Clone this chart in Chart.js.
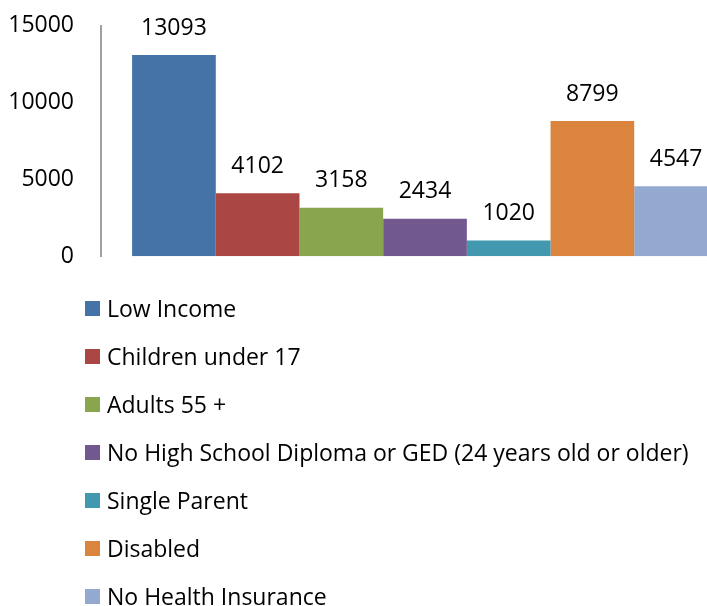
<!DOCTYPE html>
<html lang="en">
<head>
    <meta charset="UTF-8">
    <title>Population groups</title>
    <script src="https://cdn.jsdelivr.net/npm/chart.js"></script>
    <style>
        body {
            margin: 0;
            background: #ffffff;
            font-family: "Open Sans", Lato, sans-serif;
            overflow: hidden;
        }

        .wrap {
            position: relative;
            width: 707px;
            height: 606px;
            overflow: hidden;
        }

        #groupsChart {
            position: absolute;
            left: 0;
            top: -15px;
        }

        #legend {
            position: absolute;
            left: 85px;
            top: 284px;
            margin: 0;
            padding: 0;
            list-style: none;
        }

        #legend li {
            display: flex;
            align-items: center;
            height: 48px;
            font-size: 23px;
            color: #000;
            white-space: nowrap;
        }

        #legend span.box {
            display: inline-block;
            width: 15px;
            height: 15px;
            margin-right: 7px;
        }
    </style>
</head>
<body>
    <div class="wrap">
        <canvas id="groupsChart" width="749" height="312"></canvas>
        <ul id="legend"></ul>
    </div>

    <script>
        "use strict";

        // data
        const groups = [
            'Low Income',
            'Children under 17',
            'Adults 55 +',
            'No High School Diploma or GED (24 years old or older)',
            'Single Parent',
            'Disabled',
            'No Health Insurance'
        ];
        const counts = [13093, 4102, 3158, 2434, 1020, 8799, 4547];
        const colors = ['#4572A7', '#AA4643', '#89A54E', '#71588F', '#4198AF', '#DB843D', '#93A9CF'];
        const yTicks = [0, 5000, 10000, 15000];

        const FONT = { family: '"Open Sans", Lato, sans-serif', size: 23 };

        // value labels above each bar
        const valueLabels = {
            id: 'valueLabels',
            afterDatasetsDraw(chart) {
                const ctx = chart.ctx;
                ctx.save();
                ctx.font = `${FONT.size}px ${FONT.family}`;
                ctx.fillStyle = '#000';
                ctx.textAlign = 'center';
                ctx.textBaseline = 'middle';
                chart.data.datasets.forEach((ds, i) => {
                    const bar = chart.getDatasetMeta(i).data[0];
                    ctx.fillText(String(ds.data[0]), bar.x, bar.y - 27);
                });
                ctx.restore();
            }
        };

        const chart = new Chart(document.getElementById('groupsChart'), {
            type: 'bar',
            data: {
                labels: [''],
                datasets: groups.map((name, i) => ({
                    label: name,
                    data: [counts[i]],
                    backgroundColor: colors[i],
                    borderWidth: 0,
                    categoryPercentage: 0.904,
                    barPercentage: 1
                }))
            },
            options: {
                responsive: false,
                animation: false,
                layout: { padding: { top: 10, bottom: 10, left: 0, right: 0 } },
                plugins: {
                    legend: { display: false },
                    tooltip: { enabled: false }
                },
                scales: {
                    x: { display: false },
                    y: {
                        min: 0,
                        max: 15000,
                        afterBuildTicks: (scale) => {
                            scale.ticks = yTicks.map(v => ({ value: v }));
                        },
                        afterFit: (scale) => { scale.width = 101; },
                        grid: { display: false, drawTicks: false },
                        border: { display: true, color: '#a0a0a0', width: 2 },
                        ticks: {
                            color: '#000',
                            padding: 27,
                            font: FONT,
                            callback: (v) => String(v)
                        }
                    }
                }
            },
            plugins: [valueLabels]
        });

        // vertical legend, one line per group
        const legend = document.getElementById('legend');
        groups.forEach((name, i) => {
            const li = document.createElement('li');
            const box = document.createElement('span');
            box.className = 'box';
            box.style.background = colors[i];
            li.appendChild(box);
            li.appendChild(document.createTextNode(name));
            legend.appendChild(li);
        });
    </script>
</body>
</html>
